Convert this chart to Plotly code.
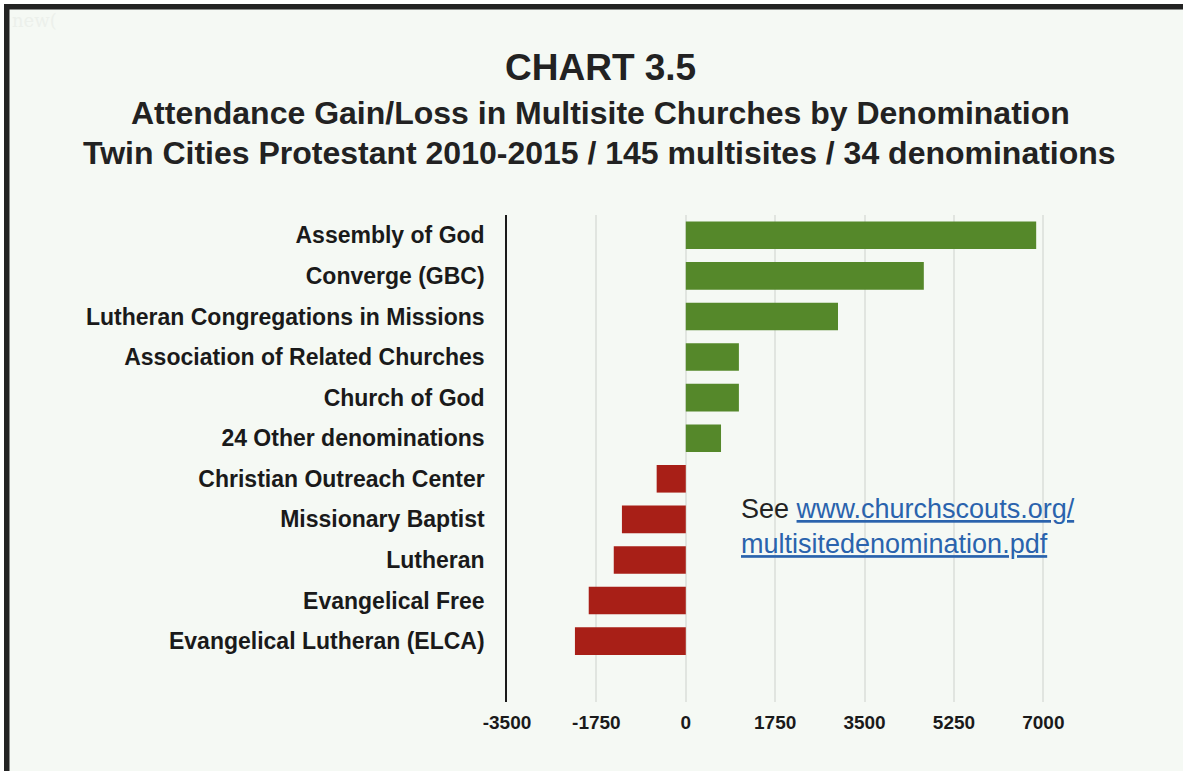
import plotly.graph_objects as go

categories = [
    "Assembly of God",
    "Converge (GBC)",
    "Lutheran Congregations in Missions",
    "Association of Related Churches",
    "Church of God",
    "24 Other denominations",
    "Christian Outreach Center",
    "Missionary Baptist",
    "Lutheran",
    "Evangelical Free",
    "Evangelical Lutheran (ELCA)",
]
values = [6860, 4660, 2980, 1040, 1040, 690, -570, -1250, -1410, -1900, -2170]
tick_vals = [-3500, -1750, 0, 1750, 3500, 5250, 7000]
tick_text = ["-3500", "-1750", "0", "1750", "3500", "5250", "7000"]

GREEN = "#55882a"
RED = "#a81f17"
BG = "#f5f9f4"
colors = [GREEN if v >= 0 else RED for v in values]

W, H = 1183, 771
L, T = 507, 215
PW, PH = 544, 487
R = W - L - PW
B = H - T - PH
FONT = "Liberation Sans, Arial, Helvetica, sans-serif"

fig = go.Figure()
fig.add_trace(go.Bar(
    y=categories, x=values, orientation="h",
    marker=dict(color=colors, line=dict(width=0)),
    width=0.68, hoverinfo="x+y",
))

def px_x(p):
    return (p - L) / PW

def px_y(p):
    return 1 - (p - T) / PH

shapes = [
    dict(type="rect", xref="paper", yref="paper", x0=px_x(-2), x1=px_x(W + 2), y0=px_y(-2), y1=px_y(4),
         fillcolor="white", line=dict(width=0), layer="below"),
    dict(type="rect", xref="paper", yref="paper", x0=px_x(-2), x1=px_x(4), y0=px_y(-2), y1=px_y(H + 2),
         fillcolor="white", line=dict(width=0), layer="below"),
    dict(type="rect", xref="paper", yref="paper", x0=px_x(4), x1=px_x(W + 2), y0=px_y(4), y1=px_y(9.5),
         fillcolor="#232323", line=dict(width=0)),
    dict(type="rect", xref="paper", yref="paper", x0=px_x(4), x1=px_x(9.5), y0=px_y(4), y1=px_y(H + 2),
         fillcolor="#232323", line=dict(width=0)),
]

annotations = [
    dict(text="new(", xref="paper", yref="paper", x=px_x(10), y=px_y(8), xanchor="left", yanchor="top",
         showarrow=False, font=dict(family="DejaVu Serif, serif", size=18, color="#ecf0eb")),
    dict(text="<b>CHART 3.5</b>", xref="paper", yref="paper", x=px_x(600), y=px_y(68),
         xanchor="center", yanchor="middle", showarrow=False,
         font=dict(family=FONT, size=37, color="#222222")),
    dict(text="<b>Attendance Gain/Loss in Multisite Churches by Denomination</b>", xref="paper", yref="paper",
         x=px_x(600), y=px_y(113), xanchor="center", yanchor="middle", showarrow=False,
         font=dict(family=FONT, size=32, color="#222222")),
    dict(text="<b>Twin Cities Protestant 2010-2015 / 145 multisites / 34 denominations</b>", xref="paper", yref="paper",
         x=px_x(599), y=px_y(153), xanchor="center", yanchor="middle", showarrow=False,
         font=dict(family=FONT, size=32, color="#222222")),
    dict(text="See <span style='color:#2a63ad'><u>www.churchscouts.org/</u></span><br>"
              "<span style='color:#2a63ad'><u>multisitedenomination.pdf</u></span>",
         xref="paper", yref="paper", x=px_x(739), y=px_y(526), xanchor="left", yanchor="middle",
         align="left", showarrow=False,
         font=dict(family=FONT, size=27, color="#222222")),
]

fig.update_layout(
    width=W, height=H,
    margin=dict(l=L, r=R, t=T, b=B, pad=0),
    paper_bgcolor=BG, plot_bgcolor=BG,
    showlegend=False,
    shapes=shapes,
    annotations=annotations,
    xaxis=dict(
        range=[-3500, 7150], tickvals=tick_vals, ticktext=["<b>%s</b>" % t for t in tick_text],
        showgrid=True, gridcolor="#e1e5e0", gridwidth=1.5, zeroline=False,
        showline=False, ticks="", ticklabelstandoff=7,
        tickfont=dict(family=FONT, size=19, color="#1a1a1a"),
        fixedrange=True,
    ),
    yaxis=dict(
        categoryorder="array", categoryarray=categories,
        autorange=False, range=[11.5, -0.5],
        showgrid=False, zeroline=False,
        showline=True, linecolor="#1a1a1a", linewidth=1.5,
        ticks="", ticklabelstandoff=16,
        tickfont=dict(family=FONT, size=23, color="#1a1a1a"),
        tickprefix="<b>", ticksuffix="</b>",
        fixedrange=True,
    ),
)

fig.write_html(
    "out.html",
    config={"displayModeBar": False},
    post_script="document.body.style.margin='0';document.body.style.overflow='hidden';",
)
